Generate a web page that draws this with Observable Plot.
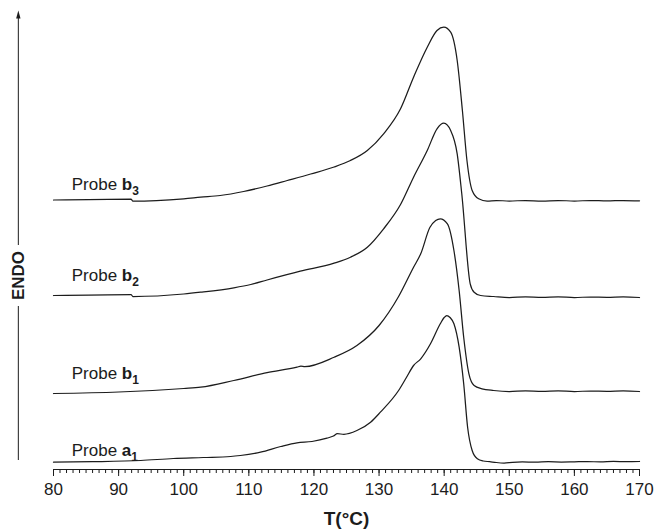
<!DOCTYPE html>
<html><head><meta charset="utf-8">
<script src="https://cdn.jsdelivr.net/npm/d3@7"></script>
<script src="https://cdn.jsdelivr.net/npm/@observablehq/plot@0.6"></script>
<style>body{margin:0;background:#fff}</style>
</head><body><div id="chart"></div>
<script>
// Temperatures (°C) and heat-flow signal (arbitrary units, ENDO up) for each probe
const tA1 = [80, 86, 93.4, 98.4, 103, 107.2, 108.7, 111.8, 114.9, 117.4, 119.7, 122.0, 123.0, 123.6, 124.6, 126.6, 128.7, 130.2, 133.0, 134.2, 135.3, 136.4, 137.9, 139.4, 140.0, 140.4, 140.9, 141.5, 142.3, 143.0, 143.6, 144.3, 145.1, 146.0, 147.0, 148.0, 149.2, 150.5, 152, 154, 156, 158, 160, 162, 164, 166, 168, 170];
const sA1 = [7.3, 7.8, 9, 11, 12, 13, 14, 17.3, 23, 26.7, 28, 31.3, 33.5, 35.8, 35.2, 39, 47.3, 57.3, 79, 92, 104, 110.7, 125.7, 145.7, 152, 154, 152, 145.7, 122.3, 85.7, 42.3, 19, 10.7, 8.5, 7.8, 7, 6.5, 7.2, 7.6, 7.3, 7.8, 7.5, 7.7, 7.9, 7.6, 8.1, 7.8, 8];

const tB1 = [80, 90, 100, 102.6, 107.7, 112.8, 117.4, 118.0, 118.6, 123.1, 126.6, 130.0, 133.0, 135.3, 136.4, 137.8, 138.7, 139.4, 140.5, 141.5, 142.3, 143.0, 143.8, 144.6, 145.8, 147.6, 150, 152.5, 155, 157.5, 160, 162.5, 165, 167.5, 170];
const sB1 = [76, 77.5, 81, 82.3, 89, 96.8, 102.3, 103.3, 102.9, 112.3, 124, 144, 173, 202.3, 215.7, 242, 249, 250.7, 245.7, 219, 179, 132.3, 95.7, 84, 80.7, 79, 78, 78.6, 78.2, 78.7, 78, 78.5, 78.2, 78.6, 78];

const tB2 = [80, 91.9, 92.2, 100, 102.6, 107.7, 110.3, 112.8, 117.9, 123.1, 125.6, 128.2, 130.7, 133.3, 135.3, 137.4, 138.9, 139.95, 141.0, 142.0, 142.7, 144.0, 144.6, 145.6, 147.6, 150, 152.5, 155, 157.5, 160, 162.5, 165, 167.5, 170];
const sB2 = [174, 175, 173, 175.5, 177.3, 181.7, 185, 189.5, 198.3, 206.3, 212.3, 222.3, 240.7, 265, 292.3, 319, 340.7, 346.3, 339, 315.7, 276, 185.7, 177.3, 174, 173, 172, 172.6, 172.2, 172.7, 172, 172.5, 172.2, 172.6, 172];

const tB3 = [80, 91.9, 92.2, 100, 102.6, 105.6, 109.2, 112.8, 115.9, 119.5, 123.1, 125.6, 128.2, 130.7, 133.3, 135.3, 137.4, 138.9, 139.95, 141.0, 142.0, 142.8, 143.5, 144.3, 145.3, 146.6, 148, 150, 152.5, 155, 157.5, 160, 162.5, 165, 167.5, 170];
const sB3 = [269.5, 270.5, 268.3, 270.7, 272.3, 274, 278, 283.5, 289, 295.5, 302.5, 309, 319, 335.7, 360.7, 392.3, 422.3, 439, 442.3, 437.3, 409, 359, 309, 279, 270.7, 268.3, 269, 268.5, 269, 268.4, 269, 268.5, 269, 268.6, 269, 268.7];

// Probe labels
const probeNames = ["b3", "b2", "b1", "a1"];
const probeLabelT = [82.8, 82.8, 82.8, 82.8];
const probeLabelS = [284.5, 193.5, 96, 19.4];

// Axis ticks
const majorTicks = [80, 90, 100, 110, 120, 130, 140, 150, 160, 170];
const minorTicks = d3.range(80, 171, 1);
const xLabel = "T(°C)";
const yLabel = "ENDO";

// build table
const series = [["a1", tA1, sA1], ["b1", tB1, sB1], ["b2", tB2, sB2], ["b3", tB3, sB3]];
const curves = series.flatMap(([name, ts, ss]) => ts.map((t, i) => ({probe: name, T: t, s: ss[i]})));
const labels = probeNames.map((n, i) => ({name: "Probe " + n, T: probeLabelT[i], s: probeLabelS[i]}));

// ENDO arrow (outside the plotting frame, left of 80 °C)
const arrowX = 74.6;
const endoLabelS = 194;
const arrowLower = [{y1: 9, y2: 163}];
const arrowUpper = [{y1: 224, y2: 452}];
const headSymbol = {draw(ctx) { ctx.moveTo(0, -7); ctx.lineTo(2.2, 1); ctx.lineTo(-2.2, 1); ctx.closePath(); }};

const ink = "#1c1c1c";
const chart = Plot.plot({
  width: 656, height: 531,
  marginLeft: 53, marginRight: 17, marginTop: 10, marginBottom: 62,
  style: {fontFamily: "'Liberation Sans', Arial, sans-serif", fontSize: "17px", color: ink, background: "#fff"},
  x: {domain: [80, 170], label: null},
  y: {domain: [0, 459], axis: null},
  marks: [
    Plot.ruleY([0], {stroke: ink, strokeWidth: 1}),
    Plot.axisX({ticks: minorTicks, tickSize: 4, tickFormat: () => "", stroke: ink}),
    Plot.axisX({ticks: majorTicks, tickSize: 7, tickPadding: 6, fontSize: 17, stroke: ink, fill: ink}),
    Plot.line(curves, {x: "T", y: "s", z: "probe", stroke: ink, strokeWidth: 1.25, curve: "monotone-x"}),
    Plot.text(labels, {x: "T", y: "s", text: "name", textAnchor: "start", fontSize: 17, fill: ink}),
    Plot.text([xLabel], {frameAnchor: "bottom", dy: 55, fontWeight: "bold", fontSize: 19, fill: ink}),
    Plot.text([yLabel], {x: () => arrowX, y: () => endoLabelS, rotate: -90, fontWeight: "bold", fontSize: 17, fill: ink}),
    Plot.ruleX(arrowLower, {x: () => arrowX, y1: "y1", y2: "y2", stroke: ink, strokeWidth: 1}),
    Plot.ruleX(arrowUpper, {x: () => arrowX, y1: "y1", y2: "y2", stroke: ink, strokeWidth: 1}),
    Plot.dot([arrowX], {x: d => d, y: () => 452, symbol: headSymbol, fill: ink, stroke: "none", r: 3})
  ]
});

// bold letter + subscript digit in probe labels
chart.querySelectorAll("text").forEach(t => {
  const m = /^Probe ([ab])(\d)$/.exec(t.textContent);
  if (!m) return;
  t.textContent = "Probe ";
  const ns = "http://www.w3.org/2000/svg";
  const b = document.createElementNS(ns, "tspan");
  b.setAttribute("font-weight", "bold"); b.textContent = m[1];
  const sub = document.createElementNS(ns, "tspan");
  sub.setAttribute("font-weight", "bold"); sub.setAttribute("font-size", "12"); sub.setAttribute("dy", "5");
  sub.textContent = m[2];
  t.append(b, sub);
});
document.getElementById("chart").append(chart);
</script>
</body></html>
